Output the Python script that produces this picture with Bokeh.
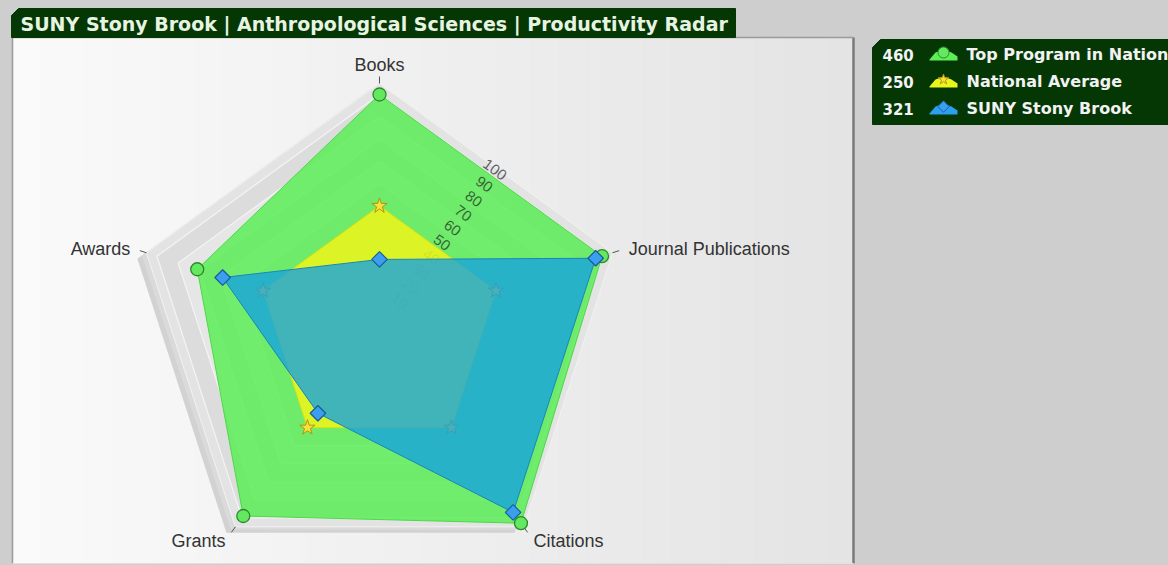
import math
from bokeh.plotting import figure
from bokeh.models import Range1d, GlobalInlineStyleSheet
from bokeh.core.properties import value
from bokeh.embed import file_html
from bokeh.resources import INLINE

# ---------------- data ----------------
categories = ["Books", "Journal Publications", "Citations", "Grants", "Awards"]
top_program = [100, 100, 103, 99, 81]
national_avg = [50, 50, 50, 50, 50]
stony_brook = [26, 97, 97, 42, 69]
tick_values = [10, 20, 30, 40, 50, 60, 70, 80, 90, 100]
series_names = ["Top Program in Nation", "National Average", "SUNY Stony Brook"]
series_totals = ["460", "250", "321"]
title_text = "SUNY Stony Brook | Anthropological Sciences | Productivity Radar"

# ---------------- styling ----------------
PAGE = "#cecece"
DARK_GREEN = "#053705"
W, H = 1168, 565

p = figure(width=W, height=H, x_range=Range1d(0, W), y_range=Range1d(H, 0),
           output_backend="svg", toolbar_location=None, min_border=0)
p.axis.visible = False
p.grid.visible = False
p.outline_line_color = None
p.background_fill_color = PAGE
p.border_fill_color = PAGE
p.stylesheets = [GlobalInlineStyleSheet(css="body{background:%s;}" % PAGE)]

# ---------------- panel with gradient ----------------
PL, PR, PT, PB = 12, 853, 37, 563
n = 60
step = (PR - PL) / n
lefts, rights, cols = [], [], []
for i in range(n):
    t = i / (n - 1)
    g = int(round(250 - 22 * t))
    lefts.append(PL + i * step)
    rights.append(PL + (i + 1) * step + 0.6)
    cols.append("#%02x%02x%02x" % (g, g, g))
p.quad(left=lefts, right=rights, top=[PT] * n, bottom=[PB] * n, fill_color=cols, line_color=None)
p.line([PL, PL], [PT, PB], line_color="#9a9a9a", line_width=1.5)
p.line([PR, PR], [PT, PB], line_color="#7a7a7a", line_width=2.5)
p.line([PL, PR], [PT, PT], line_color="#9a9a9a", line_width=1.5)
p.line([PL, PR], [PB, PB], line_color="#e0e0e0", line_width=1)

# title tab
p.patch([11, 18, 735, 735, 11], [15, 8, 8, 37, 37], fill_color=DARK_GREEN, line_color=DARK_GREEN)
p.text(x=[20], y=[23.5], text=[title_text], text_color="#e8f4e2",
       text_font=value("DejaVu Sans"), text_font_style="bold", text_font_size="19px",
       text_baseline="middle", text_align="left")

# ---------------- radar ----------------
CX, CY, R = 379, 328, 234
N = len(categories)


def rad(v):
    return R * (v + 5) / 105.0


def pt(i, r, dx=0.0, dy=0.0):
    th = 2 * math.pi * i / N
    return CX + r * math.sin(th) + dx, CY - r * math.cos(th) + dy


def ring(r, dx=0.0, dy=0.0):
    xs, ys = [], []
    for i in range(N):
        x, y = pt(i, r, dx, dy)
        xs.append(x)
        ys.append(y)
    return xs, ys


# 3D-ish shadow of the web
xs, ys = ring(rad(105), -9, 6)
p.patch(xs, ys, fill_color="#d2d2d2", line_color=None)
xs, ys = ring(rad(105), -4.5, 3)
p.patch(xs, ys, fill_color="#dadada", line_color=None)
xs, ys = ring(rad(105))
p.patch(xs, ys, fill_color="#e3e3e3", line_color="#f2f2f2", line_width=1)
for k, v in enumerate(sorted(tick_values, reverse=True)):
    xs, ys = ring(rad(v))
    p.patch(xs, ys, fill_color="#dcdcdc" if k % 2 == 0 else "#e6e6e6",
            line_color="#f4f4f4", line_width=1.2)

# radial ticks + category labels
for i, c in enumerate(categories):
    x1, y1 = pt(i, 245)
    x2, y2 = pt(i, 252)
    p.line([x1, x2], [y1, y2], line_color="#555555", line_width=1)
    th = 2 * math.pi * i / N
    s = math.sin(th)
    align = "left" if s > 0.3 else ("right" if s < -0.3 else "center")
    lx, ly = pt(i, 265 if align == "center" else 262)
    p.text(x=[lx], y=[ly + 1], text=[c], text_color="#333333",
           text_font=value("Liberation Sans"), text_font_size="18px",
           text_align=align, text_baseline="middle")

# green series
gx, gy = [], []
for i, v in enumerate(top_program):
    x, y = pt(i, rad(v))
    gx.append(x)
    gy.append(y)
p.patch(gx, gy, fill_color="#5cee57", fill_alpha=0.86, line_color="#4fd84a", line_width=1)
p.scatter(gx, gy, marker="circle", size=13, fill_color="#63e85f", line_color="#2c8a2c", line_width=1.3)

# tick labels along the Books-Journal mid direction
ang = math.radians(36)
ux, uy = math.sin(ang), -math.cos(ang)
for v in tick_values:
    d = rad(v) * math.cos(math.pi / N) + 7
    p.text(x=[CX + d * ux], y=[CY + d * uy], text=[str(v)], angle=-ang,
           text_color="#1e1e1e", text_alpha=0.7,
           text_font=value("Liberation Sans"), text_font_size="15px",
           text_align="center", text_baseline="middle")

# yellow series
yx, yy = [], []
for i, v in enumerate(national_avg):
    x, y = pt(i, rad(v))
    yx.append(x)
    yy.append(y)
p.patch(yx, yy, fill_color="#eaf51c", fill_alpha=0.88, line_color="#d8e010", line_width=1)
p.scatter(yx, yy, marker="star", size=16, fill_color="#f8e23a", line_color="#b39412", line_width=1)

# blue series
bx, by = [], []
for i, v in enumerate(stony_brook):
    x, y = pt(i, rad(v))
    bx.append(x)
    by.append(y)
p.patch(bx, by, fill_color="#14a2e2", fill_alpha=0.78, line_color="#1a86b8", line_width=1)
p.scatter(bx, by, marker="square", angle=math.pi / 4, size=11,
          fill_color="#3a9ff0", line_color="#1d5c92", line_width=1.2)

# ---------------- legend ----------------
p.patch([872, 880, 1170, 1170, 872], [47, 39, 39, 124, 124], fill_color=DARK_GREEN, line_color=DARK_GREEN)
leg_fill = ["#5cee57", "#eaf51c", "#2aa0ee"]
leg_line = ["#2c8a2c", "#b39412", "#1d5c92"]
leg_marker = ["circle", "star", "square"]
leg_angle = [0, 0, math.pi / 4]
leg_size = [11, 11, 8]
leg_mfill = ["#63e85f", "#f8e23a", "#3a9ff0"]
for k in range(3):
    yc = 53 + 27 * k
    p.text(x=[882], y=[yc + 1], text=[series_totals[k]], text_color="#f2f2f2",
           text_font=value("DejaVu Sans"), text_font_style="bold", text_font_size="15px",
           text_baseline="middle", text_align="left")
    x0 = 929
    p.patch([x0, x0 + 6, x0 + 14, x0 + 22, x0 + 28, x0 + 28, x0],
            [yc + 6, yc - 1, yc - 4, yc - 1, yc + 3, yc + 7, yc + 7],
            fill_color=leg_fill[k], line_color=None)
    p.scatter([x0 + 14], [yc - 1], marker=leg_marker[k], size=leg_size[k], angle=leg_angle[k],
              fill_color=leg_mfill[k], line_color=leg_line[k], line_width=1)
    p.text(x=[966], y=[yc + 1], text=[series_names[k]], text_color="#f2f2f2",
           text_font=value("DejaVu Sans"), text_font_style="bold", text_font_size="16px",
           text_baseline="middle", text_align="left")

open("out.html", "w").write(file_html(p, INLINE))
